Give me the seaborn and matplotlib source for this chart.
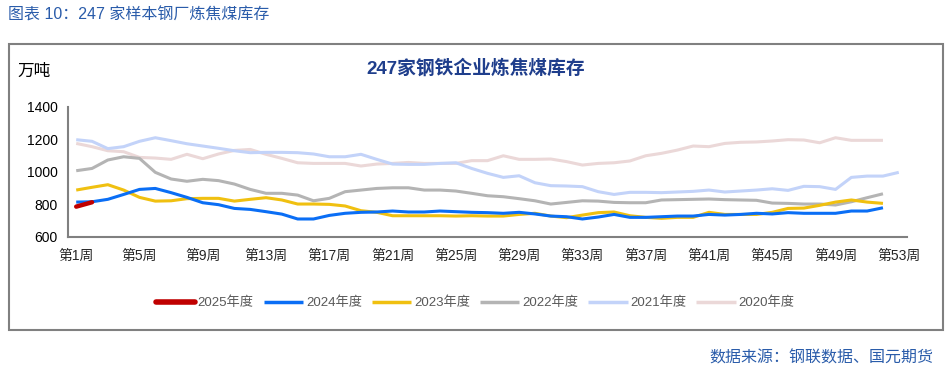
import numpy as np
import pandas as pd
import matplotlib
matplotlib.use('Agg')
import matplotlib.pyplot as plt
import seaborn as sns
from matplotlib.patches import Rectangle
from matplotlib.lines import Line2D
from matplotlib.ticker import FixedLocator, NullFormatter, FixedFormatter

# ---------------- data ----------------
week_labels = ["第%d周" % w for w in range(1, 54, 4)]

y2025 = [785, 812]
y2024 = [813, 815, 830, 860, 891, 897, 871, 842, 809, 797, 774, 768, 754,
         739,
         709, 709, 731, 744, 750, 752, 758, 752, 752, 758, 754, 750,
         748, 744, 750, 740, 727, 723, 709, 721, 737, 719, 719, 723, 727, 727,
         737, 733, 737, 744, 740, 748, 744, 744, 744, 758, 758, 778]
y2023 = [887, 904, 920, 887, 842, 819, 821, 834, 836, 836, 819, 830, 840,
         826,
         801, 801, 799, 789, 760, 750, 729, 729, 729, 729, 727, 729,
         727, 727, 737, 744, 727, 717, 733, 748, 752, 729, 719, 713, 719, 719,
         750, 737, 737, 737, 750, 774, 776, 793, 813, 826, 813, 805]
y2022 = [1006, 1020, 1072, 1092, 1082, 996, 955, 941, 953, 945, 924, 891, 867,
         867,
         856, 821, 836, 877, 887, 897, 901, 901, 887, 887, 881, 867,
         852, 846, 834, 821, 801, 811, 821, 819, 811, 809, 809, 826, 828, 830,
         832, 828, 826, 824, 807, 805, 801, 801, 795, 815, 840, 864]
y2021 = [1197, 1187, 1142, 1154, 1187, 1209, 1191, 1172, 1158, 1144, 1129, 1117, 1119,
         1119,
         1117, 1109, 1092, 1092, 1107, 1076, 1047, 1045, 1045, 1051, 1055, 1020,
         990, 965, 975, 932, 914, 912, 908, 877, 860, 873, 873, 871, 875, 879,
         887, 875, 881, 887, 895, 885, 910, 908, 891, 965, 973, 973, 996]
y2020 = [1174, 1154, 1129, 1123, 1088, 1084, 1076, 1107, 1080, 1109, 1131, 1137, 1107,
         1082,
         1055, 1051, 1051, 1051, 1035, 1047, 1051, 1057, 1051, 1051, 1051, 1068,
         1068, 1098, 1076, 1076, 1078, 1062, 1041, 1051, 1055, 1066, 1098, 1113, 1133, 1158,
         1154, 1174, 1181, 1183, 1189, 1197, 1195, 1178, 1209, 1193, 1193, 1193]

series_names = ["2025年度", "2024年度", "2023年度", "2022年度", "2021年度", "2020年度"]
series_vals = [y2025, y2024, y2023, y2022, y2021, y2020]
colors = ["#C00000", "#0A6EF5", "#F0C010", "#B4B4B4", "#C3D3F9", "#EBD8D8"]
widths = [3.2, 2.2, 2.2, 2.2, 2.2, 2.2]

frames = []
for name, vals in zip(series_names, series_vals):
    frames.append(pd.DataFrame({"week": np.arange(1, len(vals) + 1),
                                "value": vals, "year": name}))
df = pd.concat(frames, ignore_index=True)

# ---------------- figure ----------------
sns.set_style("white")
plt.rcParams['font.family'] = ['Liberation Sans', 'Noto Sans CJK SC', 'DejaVu Sans']

W, H = 948, 371
fig = plt.figure(figsize=(W / 100, H / 100), dpi=100)
ax = fig.add_axes([68.3 / W, 1 - 236.7 / H, (906.7 - 68.3) / W, (236.7 - 106.7) / H])

# draw back to front
for name, c, lw in list(zip(series_names, colors, widths))[::-1]:
    sub = df[df.year == name]
    sns.lineplot(data=sub, x="week", y="value", color=c, linewidth=lw, ax=ax,
                 legend=False, solid_capstyle='round' if name == "2025年度" else 'butt')

ax.set_xlim(0.5, 53.5)
ax.set_ylim(600, 1400)
ax.set_yticks(np.arange(600, 1401, 200))
ax.set_xlabel("")
ax.set_ylabel("")

ax.xaxis.set_major_locator(FixedLocator(np.arange(0.5, 54, 1)))
ax.xaxis.set_major_formatter(NullFormatter())
ax.xaxis.set_minor_locator(FixedLocator(np.arange(1, 54, 4)))
ax.xaxis.set_minor_formatter(FixedFormatter(week_labels))

ax.tick_params(axis='both', which='major', direction='out', length=4.5, width=1.5,
               color='#808080', labelsize=10, labelcolor='black')
ax.tick_params(axis='y', which='major', pad=3)
ax.tick_params(axis='x', which='minor', length=0, pad=9, labelsize=10)

for s in ['top', 'right']:
    ax.spines[s].set_visible(False)
for s in ['left', 'bottom']:
    ax.spines[s].set_color('#808080')
    ax.spines[s].set_linewidth(1.5)
ax.grid(False)

# legend
handles = [Line2D([0], [0], color=c, lw=(4 if n == "2025年度" else 2.5),
                  solid_capstyle='round' if n == "2025年度" else 'butt')
           for n, c in zip(series_names, colors)]
fig.legend(handles, series_names, loc='center', bbox_to_anchor=(475 / W, 1 - 303 / H),
           ncol=6, frameon=False, handlelength=3.0, handletextpad=0.2,
           columnspacing=0.75, fontsize=9.5, labelcolor='#595959')

# texts
blue = '#2A5CAA'
fig.text(8 / W, 1 - 15 / H, "图表 10：247 家样本钢厂炼焦煤库存", ha='left', va='center',
         fontsize=11.5, color=blue)
fig.text(476 / W, 1 - 68 / H, "247家钢铁企业炼焦煤库存", ha='center', va='center',
         fontsize=13.5, color='#1F3E8C', fontweight='bold')
fig.text(17 / W, 1 - 71 / H, "万吨", ha='left', va='center', fontsize=12, color='black')
fig.text(933 / W, 1 - 358 / H, "数据来源：钢联数据、国元期货", ha='right', va='center',
         fontsize=11.5, color=blue)

# border box
fig.patches.append(Rectangle((8.5 / W, 1 - 330 / H), (943 - 8.5) / W, (330 - 44) / H,
                             transform=fig.transFigure, fill=False,
                             edgecolor='#808080', linewidth=1.5))

fig.savefig("out.png", dpi=100)
